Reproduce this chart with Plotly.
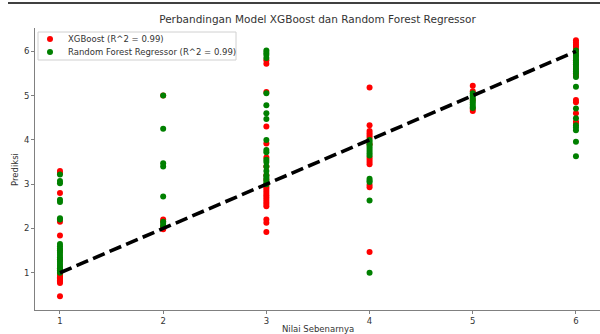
import plotly.graph_objects as go

# XGBoost predictions grouped by true value
xgb_pred_1 = [3.3, 3.25, 2.8, 2.15, 1.84, 1.5, 1.3, 1.1, 1.05, 1.0, 0.97, 0.93, 0.9, 0.87, 0.83, 0.8, 0.77, 0.47]
xgb_pred_2 = [5.0, 2.2, 2.15, 2.05, 2.0, 1.98]
xgb_pred_3 = [5.8, 5.72, 5.08, 4.3, 3.92, 3.6, 3.4, 3.2, 3.1, 3.0, 2.95, 2.9, 2.85, 2.8, 2.75, 2.7,
              2.65, 2.6, 2.55, 2.5, 2.2, 2.13, 1.92]
xgb_pred_4 = [5.18, 4.33, 4.2, 4.15, 4.1, 4.05, 3.9, 3.6, 3.55, 3.5, 3.45, 2.98, 2.93, 1.47]
xgb_pred_5 = [5.22, 5.1, 4.9, 4.7, 4.65]
xgb_pred_6 = [6.25, 6.2, 6.15, 6.1, 6.05, 6.0, 5.9, 5.8, 5.7, 5.6, 5.5, 5.45, 4.9, 4.85, 4.6, 4.41, 4.38]

# Random Forest predictions grouped by true value
rf_pred_1 = [3.22, 3.07, 3.02, 2.65, 2.6, 2.23, 2.2, 1.65, 1.6, 1.55, 1.5, 1.45, 1.4, 1.35, 1.3,
             1.25, 1.2, 1.15, 1.1, 1.05, 1.0]
rf_pred_2 = [5.0, 4.25, 3.47, 3.4, 2.72, 2.15, 2.1, 2.05]
rf_pred_3 = [6.02, 5.97, 5.92, 5.85, 5.05, 4.78, 4.6, 4.47, 4.0, 3.77, 3.72, 3.55, 3.5, 3.4, 3.3,
             3.2, 3.15, 3.1, 3.05, 3.0]
rf_pred_4 = [4.0, 3.95, 3.9, 3.85, 3.8, 3.75, 3.7, 3.65, 3.12, 3.08, 3.05, 2.63, 1.0]
rf_pred_5 = [5.05, 5.0, 4.95, 4.9, 4.85, 4.8, 4.75, 4.72]
rf_pred_6 = [6.02, 5.95, 5.9, 5.85, 5.8, 5.75, 5.7, 5.65, 5.6, 5.55, 5.5, 5.42, 5.2, 4.71, 4.49,
             4.33, 4.28, 4.22, 3.96, 3.63]

true_values = [1, 2, 3, 4, 5, 6]
xgb_groups = [xgb_pred_1, xgb_pred_2, xgb_pred_3, xgb_pred_4, xgb_pred_5, xgb_pred_6]
rf_groups = [rf_pred_1, rf_pred_2, rf_pred_3, rf_pred_4, rf_pred_5, rf_pred_6]
legend_labels = ["XGBoost (R^2 = 0.99)", "Random Forest Regressor (R^2 = 0.99)"]
series_colors = ["red", "green"]

xgb_x = [t for t, g in zip(true_values, xgb_groups) for _ in g]
xgb_y = [v for g in xgb_groups for v in g]
rf_x = [t for t, g in zip(true_values, rf_groups) for _ in g]
rf_y = [v for g in rf_groups for v in g]

line_x = [min(true_values), max(true_values)]
line_y = [min(true_values), max(true_values)]

FONT = "DejaVu Sans"
TXT = "#333333"
W, H = 600, 334
ML, MR, MT, MB = 35, 0, 28, 24
PW, PH = W - ML - MR, H - MT - MB


def px(x):
    return (x - ML) / PW


def py(y):
    return 1 - (y - MT) / PH


fig = go.Figure()
fig.add_trace(go.Scatter(x=xgb_x, y=xgb_y, mode="markers", name=legend_labels[0], showlegend=False,
                         marker=dict(color=series_colors[0], size=6, line=dict(width=0))))
fig.add_trace(go.Scatter(x=rf_x, y=rf_y, mode="markers", name=legend_labels[1], showlegend=False,
                         marker=dict(color=series_colors[1], size=6, line=dict(width=0))))
fig.add_trace(go.Scatter(x=line_x, y=line_y, mode="lines", showlegend=False,
                         line=dict(color="black", width=3.6, dash="12.6px,5.4px")))

axis_common = dict(showgrid=False, zeroline=False, showline=True, linecolor="#808080", linewidth=1,
                   ticks="outside", ticklen=3, tickcolor="#808080", tickwidth=1, automargin=False,
                   tickfont=dict(family=FONT, size=8.5, color=TXT))

fig.update_layout(
    width=W, height=H,
    margin=dict(l=ML, r=MR, t=MT, b=MB, autoexpand=False),
    paper_bgcolor="white", plot_bgcolor="white",
    font=dict(family=FONT, color=TXT),
    title=dict(text="Perbandingan Model XGBoost dan Random Forest Regressor",
               x=0.5, xref="paper", xanchor="center", y=1 - 19 / H, yref="container",
               yanchor="middle", font=dict(family=FONT, size=10.5, color=TXT)),
    xaxis=dict(range=[0.758, 6.233], tickvals=true_values, **axis_common),
    yaxis=dict(range=[0.159, 6.526], tickvals=[1, 2, 3, 4, 5, 6], **axis_common),
    showlegend=False,
    hovermode=False,
)

# Legend box (matplotlib-style)
fig.add_shape(type="rect", xref="paper", yref="paper", x0=px(38), x1=px(236), y0=py(60), y1=py(32),
              line=dict(color="#d0d0d0", width=1), fillcolor="rgba(255,255,255,0.8)", layer="above")
for i, (lab, col) in enumerate(zip(legend_labels, series_colors)):
    yc = 39 + 13 * i
    fig.add_shape(type="circle", xref="paper", yref="paper", x0=px(47), x1=px(53),
                  y0=py(yc + 3), y1=py(yc - 3), line=dict(width=0), fillcolor=col, layer="above")
    fig.add_annotation(text=lab, xref="paper", yref="paper", x=px(66), y=py(yc),
                       showarrow=False, xanchor="left", yanchor="middle",
                       font=dict(family=FONT, size=8.5, color=TXT))

fig.add_annotation(text="Prediksi", xref="paper", yref="paper", x=px(15), y=py(170),
                   textangle=-90, showarrow=False, xanchor="center", yanchor="middle",
                   font=dict(family=FONT, size=8.5, color=TXT))
fig.add_annotation(text="Nilai Sebenarnya", xref="paper", yref="paper", x=0.5, y=py(322),
                   showarrow=False, xanchor="center", yanchor="top",
                   font=dict(family=FONT, size=8.5, color=TXT))

fig.add_shape(type="line", xref="paper", yref="paper", x0=px(8), x1=1.0,
              y0=py(3), y1=py(3), line=dict(color="black", width=1.5), layer="above")

fig.write_html("out.html", config={"displayModeBar": False},
               post_script="document.body.style.margin='0';document.body.style.overflow='hidden';")
